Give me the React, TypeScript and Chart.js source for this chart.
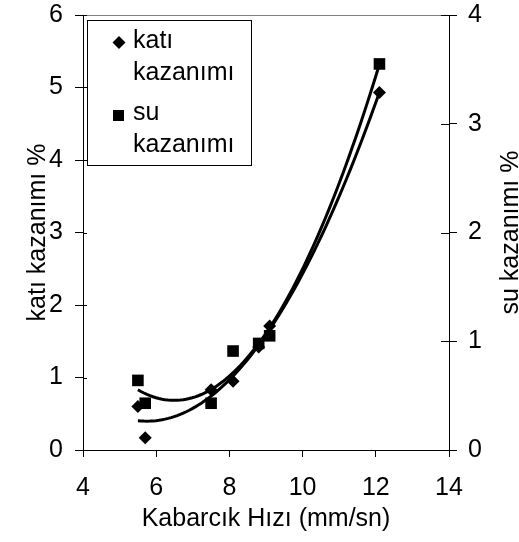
import React, { useEffect, useRef } from "react";
import { Chart, registerables } from "chart.js";

Chart.register(...registerables);

// ---- data ----
const bubbleVelocity = [5.5, 5.7, 7.5, 8.1, 8.8, 9.1, 12.1]; // Kabarcık Hızı (mm/sn)
const solidRecovery = [0.6, 0.17, 0.83, 0.95, 1.42, 1.71, 4.93]; // katı kazanımı % (left axis)
const waterRecovery = [0.64, 0.43, 0.43, 0.91, 0.98, 1.05, 3.55]; // su kazanımı % (right axis)

const xTicks = [4, 6, 8, 10, 12, 14];
const leftTicks = [0, 1, 2, 3, 4, 5, 6];
const rightTicks = [0, 1, 2, 3, 4];

const solidLabel = ["katı", "kazanımı"];
const waterLabel = ["su", "kazanımı"];
const xTitle = "Kabarcık Hızı (mm/sn)";
const leftTitle = "katı kazanımı %";
const rightTitle = "su kazanımı %";

const TREND_ORDER = 2;
const FONT = "'Liberation Sans', Arial, sans-serif";
const FS = 25;

// least-squares polynomial trendline (as the spreadsheet trendline does)
function polyFit(xs: number[], ys: number[], order: number): number[] {
  const n = order + 1;
  const A: number[][] = [];
  for (let r = 0; r < n; r++) {
    const row: number[] = [];
    for (let c = 0; c < n; c++) {
      let s = 0;
      for (const x of xs) s += Math.pow(x, r + c);
      row.push(s);
    }
    let b = 0;
    xs.forEach((x, i) => (b += ys[i] * Math.pow(x, r)));
    row.push(b);
    A.push(row);
  }
  for (let i = 0; i < n; i++) {
    let p = i;
    for (let k = i + 1; k < n; k++) if (Math.abs(A[k][i]) > Math.abs(A[p][i])) p = k;
    [A[i], A[p]] = [A[p], A[i]];
    for (let k = i + 1; k < n; k++) {
      const f = A[k][i] / A[i][i];
      for (let c = i; c <= n; c++) A[k][c] -= f * A[i][c];
    }
  }
  const coef = new Array(n).fill(0);
  for (let i = n - 1; i >= 0; i--) {
    let s = A[i][n];
    for (let c = i + 1; c < n; c++) s -= A[i][c] * coef[c];
    coef[i] = s / A[i][i];
  }
  return coef;
}

function trendPoints(xs: number[], ys: number[]) {
  const coef = polyFit(xs, ys, TREND_ORDER);
  const lo = Math.min(...xs);
  const hi = Math.max(...xs);
  const pts: { x: number; y: number }[] = [];
  const N = 80;
  for (let i = 0; i <= N; i++) {
    const x = lo + ((hi - lo) * i) / N;
    let y = 0;
    coef.forEach((c, k) => (y += c * Math.pow(x, k)));
    pts.push({ x, y });
  }
  return pts;
}

const decorPlugin = {
  id: "decor",
  afterDraw(chart: any) {
    const ctx = chart.ctx as CanvasRenderingContext2D;
    const { left, right, top } = chart.chartArea;
    const yL = chart.scales.y;
    const yR = chart.scales.y2;
    ctx.save();
    // top border of plot area
    ctx.strokeStyle = "#808080";
    ctx.lineWidth = 1;
    ctx.beginPath();
    ctx.moveTo(left, top + 0.5);
    ctx.lineTo(right, top + 0.5);
    ctx.stroke();
    // inner halves of the crossing tick marks
    ctx.strokeStyle = "#000";
    leftTicks.forEach((v) => {
      const y = Math.round(yL.getPixelForValue(v)) + 0.5;
      ctx.beginPath();
      ctx.moveTo(left, y);
      ctx.lineTo(left + 4, y);
      ctx.stroke();
    });
    rightTicks.forEach((v) => {
      const y = Math.round(yR.getPixelForValue(v)) + 0.5;
      ctx.beginPath();
      ctx.moveTo(right - 8, y);
      ctx.lineTo(right, y);
      ctx.stroke();
    });
    // right axis title reading bottom-to-top
    ctx.fillStyle = "#000";
    ctx.font = `${FS}px ${FONT}`;
    ctx.textAlign = "center";
    ctx.textBaseline = "middle";
    ctx.translate(511, (chart.chartArea.top + chart.chartArea.bottom) / 2);
    ctx.rotate(-Math.PI / 2);
    ctx.fillText(rightTitle, 0, 0);
    ctx.restore();

    // legend box
    ctx.save();
    const bx = 87.5, by = 20.5, bw = 164, bh = 145;
    ctx.fillStyle = "#fff";
    ctx.fillRect(bx, by, bw, bh);
    ctx.strokeStyle = "#000";
    ctx.lineWidth = 1;
    ctx.strokeRect(bx, by, bw, bh);
    ctx.fillStyle = "#000";
    // diamond
    const dx = 119, dy = 42.5, dr = 6.5;
    ctx.beginPath();
    ctx.moveTo(dx, dy - dr);
    ctx.lineTo(dx + dr, dy);
    ctx.lineTo(dx, dy + dr);
    ctx.lineTo(dx - dr, dy);
    ctx.closePath();
    ctx.fill();
    // square
    ctx.fillRect(113, 110, 11, 11);
    ctx.font = `${FS}px ${FONT}`;
    ctx.textAlign = "left";
    ctx.textBaseline = "alphabetic";
    ctx.fillText(solidLabel[0], 133, 48);
    ctx.fillText(solidLabel[1], 133, 80);
    ctx.fillText(waterLabel[0], 133, 120);
    ctx.fillText(waterLabel[1], 133, 152);
    ctx.restore();
  },
};

export default function App() {
  const ref = useRef<HTMLCanvasElement | null>(null);

  useEffect(() => {
    document.body.style.margin = "0";
    const canvas = ref.current;
    if (!canvas) return;
    Chart.defaults.font.family = FONT;
    Chart.defaults.font.size = FS;
    Chart.defaults.color = "#000";

    const solidPts = bubbleVelocity.map((x, i) => ({ x, y: solidRecovery[i] }));
    const waterPts = bubbleVelocity.map((x, i) => ({ x, y: waterRecovery[i] }));

    const chart = new Chart(canvas, {
      type: "scatter",
      data: {
        datasets: [
          {
            label: "katı kazanımı",
            data: solidPts,
            yAxisID: "y",
            pointStyle: "rectRot",
            pointRadius: 6.5,
            backgroundColor: "#000",
            borderColor: "#000",
            borderWidth: 0,
          },
          {
            label: "su kazanımı",
            data: waterPts,
            yAxisID: "y2",
            pointStyle: "rect",
            pointRadius: 8.2,
            backgroundColor: "#000",
            borderColor: "#000",
            borderWidth: 0,
          },
          {
            type: "line",
            label: "katı trend",
            data: trendPoints(bubbleVelocity, solidRecovery),
            yAxisID: "y",
            borderColor: "#000",
            borderWidth: 3,
            pointRadius: 0,
            tension: 0,
            fill: false,
          } as any,
          {
            type: "line",
            label: "su trend",
            data: trendPoints(bubbleVelocity, waterRecovery),
            yAxisID: "y2",
            borderColor: "#000",
            borderWidth: 3,
            pointRadius: 0,
            tension: 0,
            fill: false,
          } as any,
        ],
      },
      options: {
        responsive: false,
        animation: false,
        layout: { padding: { top: 0, left: 0, right: 0, bottom: 0 } },
        plugins: { legend: { display: false }, tooltip: { enabled: false } },
        scales: {
          x: {
            type: "linear",
            position: "bottom",
            min: 4,
            max: 14,
            afterBuildTicks: (s: any) => {
              s.ticks = xTicks.map((v) => ({ value: v }));
            },
            ticks: { padding: 16, font: { size: FS } },
            grid: { drawOnChartArea: false, tickLength: 7, color: "#000", tickColor: "#000" },
            border: { color: "#000", width: 1 },
            title: { display: true, text: xTitle, font: { size: FS }, padding: { top: 0, bottom: 8 } },
            afterFit: (s: any) => {
              s.height = 92;
            },
          },
          y: {
            type: "linear",
            position: "left",
            min: 0,
            max: 6,
            afterBuildTicks: (s: any) => {
              s.ticks = leftTicks.map((v) => ({ value: v }));
            },
            ticks: { padding: 12, font: { size: FS } },
            grid: { drawOnChartArea: false, tickLength: 8, color: "#000", tickColor: "#000" },
            border: { color: "#000", width: 1 },
            title: { display: true, text: leftTitle, font: { size: FS }, padding: { top: 23, bottom: 0 } },
            afterFit: (s: any) => {
              s.width = 83;
              s.paddingTop = 15;
            },
          },
          y2: {
            type: "linear",
            position: "right",
            min: 0,
            max: 4,
            afterBuildTicks: (s: any) => {
              s.ticks = rightTicks.map((v) => ({ value: v }));
            },
            ticks: { padding: 11, font: { size: FS } },
            grid: { drawOnChartArea: false, tickLength: 8, color: "#000", tickColor: "#000" },
            border: { color: "#000", width: 1 },
            afterFit: (s: any) => {
              s.width = 70;
              s.paddingTop = 15;
            },
          },
        },
      },
      plugins: [decorPlugin],
    });
    return () => chart.destroy();
  }, []);

  return <canvas ref={ref} width={519} height={542} style={{ display: "block" }} />;
}
